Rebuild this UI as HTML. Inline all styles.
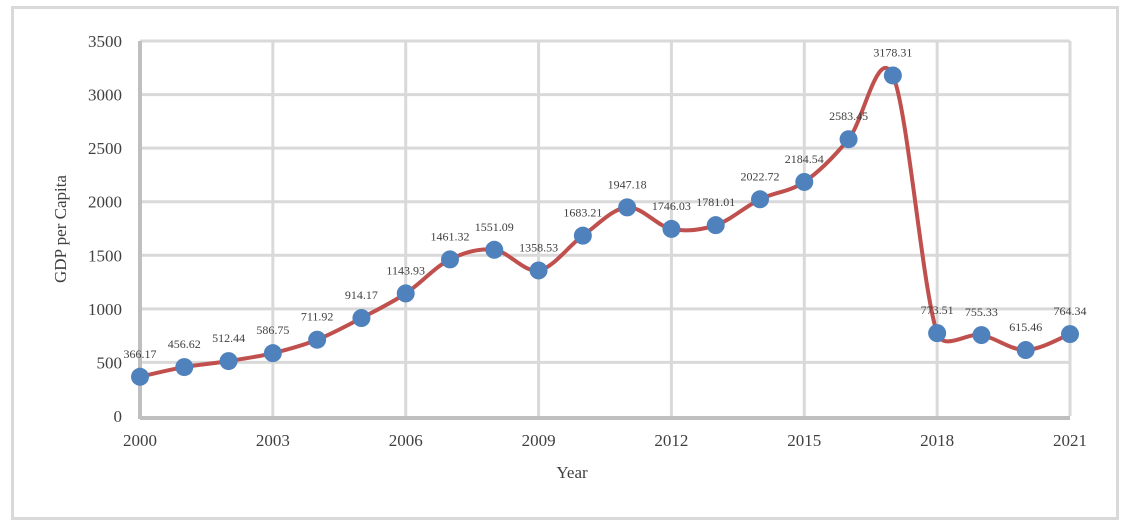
<!DOCTYPE html>
<html><head><meta charset="utf-8"><style>
html,body{margin:0;padding:0;background:#fff;}
svg{display:block;font-family:"Liberation Serif",serif;}
</style></head><body>
<svg id="chart" width="1129" height="522" viewBox="0 0 1129 522">
<rect x="12.5" y="7.5" width="1105" height="511" fill="#fff" stroke="#d9d9d9" stroke-width="3"/>
<g id="grid"></g>
<g id="axes"></g>
<path id="line" fill="none" stroke="#c0504d" stroke-width="4"/>
<g id="points"></g>
<g id="labels"></g>
<text x="572" y="478" font-size="17" fill="#404040" text-anchor="middle">Year</text>
<text x="0" y="0" font-size="17" fill="#404040" text-anchor="middle" transform="translate(66,229) rotate(-90)">GDP per Capita</text>
</svg>
<script>
const years = [2000,2001,2002,2003,2004,2005,2006,2007,2008,2009,2010,2011,2012,2013,2014,2015,2016,2017,2018,2019,2020,2021];
const gdp = [366.17,456.62,512.44,586.75,711.92,914.17,1143.93,1461.32,1551.09,1358.53,1683.21,1947.18,1746.03,1781.01,2022.72,2184.54,2583.45,3178.31,773.51,755.33,615.46,764.34];
const yTicks = [0,500,1000,1500,2000,2500,3000,3500];
const xTicks = [2000,2003,2006,2009,2012,2015,2018,2021];
const NS='http://www.w3.org/2000/svg';
const x0=140,x1=1070,yB=416,yT=41;
const xs=v=>x0+(v-2000)*(x1-x0)/21;
const ys=v=>yB-v*(yB-yT)/3500;
function mk(t,a,p){const e=document.createElementNS(NS,t);for(const k in a)e.setAttribute(k,a[k]);p.appendChild(e);return e;}
const grid=document.getElementById('grid'),axes=document.getElementById('axes');
yTicks.forEach(v=>{
 if(v>0){const l=mk('line',{x1:x0,x2:x1,y1:ys(v),y2:ys(v),stroke:'#d9d9d9','stroke-width':3},grid);
 
 }
 const t=mk('text',{x:122,y:ys(v)+6,'font-size':17,fill:'#404040','text-anchor':'end'},axes);
 t.textContent=v;
 
 
});
xTicks.forEach(v=>{
 if(v>2000){const l=mk('line',{x1:xs(v),x2:xs(v),y1:yT,y2:yB,stroke:'#d9d9d9','stroke-width':3},grid);
 
 }
 const t=mk('text',{x:xs(v),y:446,'font-size':17,fill:'#404040','text-anchor':'middle'},axes);
 t.textContent=v;
 
 
});
const ya=mk('line',{x1:x0,x2:x0,y1:yT,y2:yB+3,stroke:'#bfbfbf','stroke-width':4},axes);


const xa=mk('line',{x1:x0,x2:x1,y1:yB+2,y2:yB+2,stroke:'#bfbfbf','stroke-width':4},axes);


const P=years.map((y,i)=>[xs(y),ys(gdp[i])]);
function clampV(v,maxL){const L=Math.hypot(v[0],v[1]);if(L>maxL&&L>0){return [v[0]*maxL/L,v[1]*maxL/L];}return v;}
let d='M'+P[0][0]+','+P[0][1];
for(let i=0;i<P.length-1;i++){
 const p0=P[Math.max(0,i-1)],p1=P[i],p2=P[i+1],p3=P[Math.min(P.length-1,i+2)];
 const seg=Math.hypot(p2[0]-p1[0],p2[1]-p1[1])*0.45;
 const t1=clampV([(p2[0]-p0[0])/6,(p2[1]-p0[1])/6],seg);
 const t2=clampV([(p3[0]-p1[0])/6,(p3[1]-p1[1])/6],seg);
 const c1=[p1[0]+t1[0],p1[1]+t1[1]];
 const c2=[p2[0]-t2[0],p2[1]-t2[1]];
 d+=' C'+c1[0]+','+c1[1]+' '+c2[0]+','+c2[1]+' '+p2[0]+','+p2[1];
}
document.getElementById('line').setAttribute('d',d);
const pts=document.getElementById('points'),lbs=document.getElementById('labels');
P.forEach((p,i)=>{
 const c=mk('circle',{cx:p[0],cy:p[1],r:9,fill:'#4f81bd'},pts);
 
 
 const t=mk('text',{x:p[0],y:p[1]-19,'font-size':12,fill:'#404040','text-anchor':'middle'},lbs);
 t.textContent=gdp[i].toFixed(2);
 
 
});
</script>
</body></html>
